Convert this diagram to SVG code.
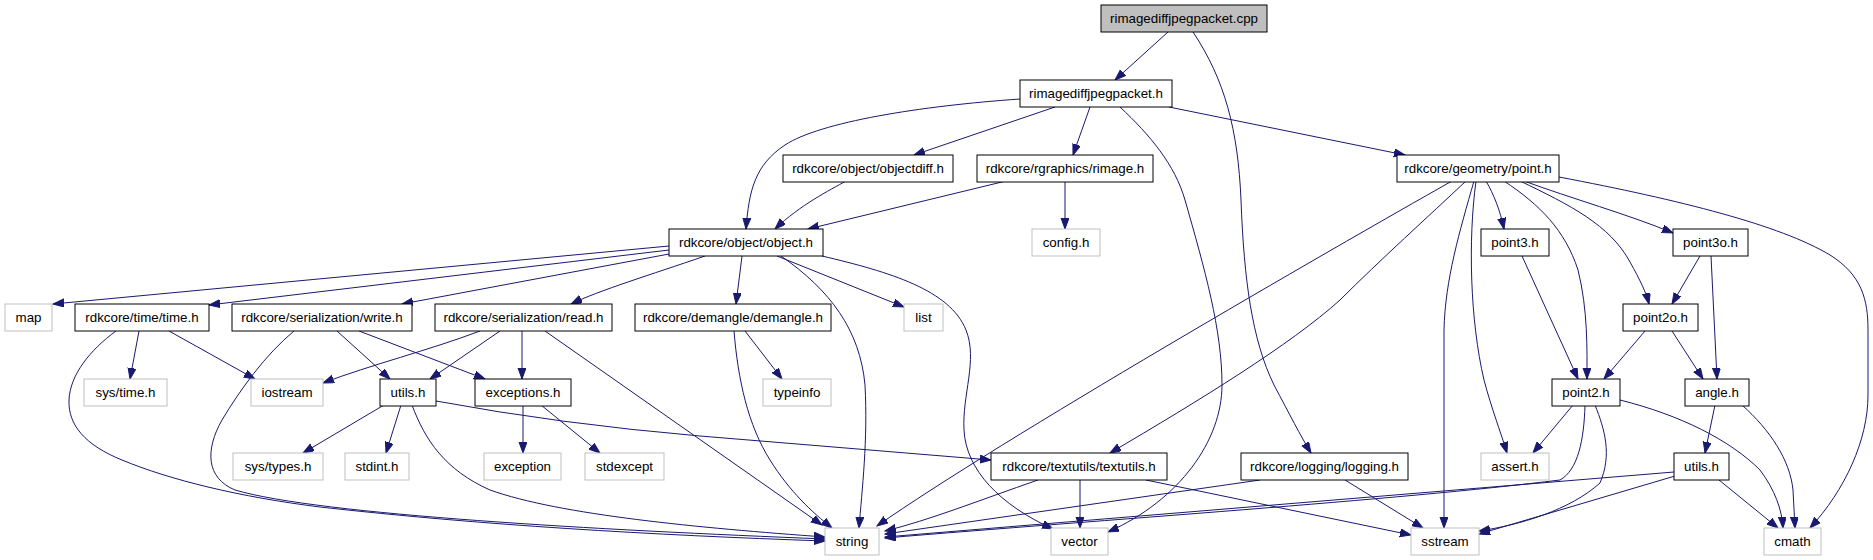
<svg xmlns="http://www.w3.org/2000/svg" width="1873" height="560" viewBox="0 0 1873 560">
<style>
.n rect{fill:#fff;stroke:#000;stroke-width:1}
.g rect{fill:#fff;stroke:#bfbfbf;stroke-width:1}
.root rect{fill:#bfbfbf;stroke:#000;stroke-width:1}
text{font-family:"Liberation Sans",Arial,Helvetica,sans-serif;font-size:13.33px;fill:#000;text-anchor:middle}
#edges path{fill:none;stroke:#191970;stroke-width:1;marker-end:url(#arr)}
</style>
<defs>
<marker id="arr" markerWidth="12" markerHeight="9" refX="11" refY="4" orient="auto" markerUnits="userSpaceOnUse">
<path d="M0,0 L11,4 L0,8 z" fill="#191970" stroke="#191970" stroke-width="1"/>
</marker>
</defs>
<rect width="1873" height="560" fill="#fff"/>
<g id="edges">
<path d="M1168,32 L1115,80"/>
<path d="M1193,32 C1225,80 1238,130 1241,200 C1244,280 1252,340 1274,385 C1290,415 1300,435 1311,453"/>
<path d="M1020,99 C920,106 820,122 785,145 C755,165 749,190 746,229"/>
<path d="M1055,107 L914,155"/>
<path d="M1090,107 L1073,155"/>
<path d="M1120,107 C1150,135 1175,165 1185,200 C1205,270 1222,330 1222,385 C1222,440 1180,500 1108,532"/>
<path d="M1169,107 L1405,155"/>
<path d="M846,181 C830,190 800,205 775,229"/>
<path d="M1006,181 L808,229"/>
<path d="M1065,181 L1065,229"/>
<path d="M1452,181 C1330,250 1000,440 877,526"/>
<path d="M1466,181 C1430,215 1380,260 1340,300 C1290,345 1200,400 1110,453"/>
<path d="M1474,181 C1460,230 1445,280 1444,330 L1444,528"/>
<path d="M1476,181 C1468,240 1470,320 1484,380 C1492,410 1500,430 1507,453"/>
<path d="M1486,181 C1494,195 1500,210 1504,229"/>
<path d="M1504,181 C1540,205 1565,230 1578,270 C1588,310 1587,350 1587,379"/>
<path d="M1520,181 C1570,205 1610,225 1630,262 C1640,280 1646,292 1649,304"/>
<path d="M1524,181 C1570,198 1630,215 1673,233"/>
<path d="M1559,177 C1680,200 1780,225 1830,255 C1862,275 1868,300 1868,330 L1868,395 C1868,440 1845,490 1810,528"/>
<path d="M669,246 L53,304"/>
<path d="M669,250 L209,305"/>
<path d="M669,254 L402,304"/>
<path d="M705,256 C650,275 600,290 571,304"/>
<path d="M742,256 L736,304"/>
<path d="M777,256 L904,307"/>
<path d="M781,256 C830,290 860,330 865,385 C868,440 862,490 859,528"/>
<path d="M822,256 C890,272 950,290 966,330 C978,360 962,395 964,430 C966,470 1000,505 1053,529"/>
<path d="M139,331 L130,379"/>
<path d="M169,331 L255,379"/>
<path d="M116,331 C90,350 70,375 69,400 C68,425 85,445 122,460 C170,480 240,497 320,507 C480,525 650,535 825,541"/>
<path d="M337,331 L390,379"/>
<path d="M359,331 L485,379"/>
<path d="M294,331 C265,355 240,390 222,420 C205,450 206,478 235,490 C320,515 600,530 825,539"/>
<path d="M480,331 C430,350 370,365 323,383"/>
<path d="M500,331 L430,379"/>
<path d="M522,331 L522,379"/>
<path d="M545,331 L822,525"/>
<path d="M734,331 C738,380 748,425 770,460 C790,492 812,512 832,528"/>
<path d="M745,331 L782,379"/>
<path d="M384,405 L303,453"/>
<path d="M401,405 L386,453"/>
<path d="M412,405 C425,440 445,470 490,490 C560,515 700,528 825,537"/>
<path d="M436,401 Q560,424 700,436 L991,460"/>
<path d="M523,405 L523,453"/>
<path d="M541,405 L600,453"/>
<path d="M1522,256 L1578,379"/>
<path d="M1700,256 L1672,304"/>
<path d="M1711,256 L1717,379"/>
<path d="M1645,331 L1604,379"/>
<path d="M1672,331 L1703,379"/>
<path d="M1573,405 L1533,453"/>
<path d="M1585,405 C1584,440 1578,470 1560,480 C1400,500 1100,520 885,538"/>
<path d="M1595,405 C1605,430 1612,455 1600,483 C1570,510 1520,525 1479,531"/>
<path d="M1620,400 C1680,415 1730,440 1760,470 C1775,490 1782,510 1783,528"/>
<path d="M1715,405 L1705,453"/>
<path d="M1742,405 C1770,430 1790,460 1793,490 L1795,528"/>
<path d="M1674,472 L885,537"/>
<path d="M1675,476 L1479,534"/>
<path d="M1719,480 L1778,528"/>
<path d="M1080,480 L1080,528"/>
<path d="M1038,480 C980,500 930,520 885,531"/>
<path d="M1146,480 L1411,535"/>
<path d="M1345,480 L1423,528"/>
<path d="M1260,480 L885,534"/>
</g>
<g id="n_cpp" class="root"><rect x="1101" y="5" width="166" height="27"/><text x="1184" y="23">rimagediffjpegpacket.cpp</text></g>
<g id="n_rjph" class="n"><rect x="1020" y="80" width="152" height="27"/><text x="1096" y="98">rimagediffjpegpacket.h</text></g>
<g id="n_objectdiff" class="n"><rect x="783" y="155" width="170" height="27"/><text x="868" y="173">rdkcore/object/objectdiff.h</text></g>
<g id="n_rimage" class="n"><rect x="977" y="155" width="176" height="27"/><text x="1065" y="173">rdkcore/rgraphics/rimage.h</text></g>
<g id="n_point" class="n"><rect x="1397" y="155" width="162" height="27"/><text x="1478" y="173">rdkcore/geometry/point.h</text></g>
<g id="n_object" class="n"><rect x="669" y="229" width="154" height="27"/><text x="746" y="247">rdkcore/object/object.h</text></g>
<g id="n_config" class="g"><rect x="1032" y="229" width="68" height="27"/><text x="1066" y="247">config.h</text></g>
<g id="n_point3" class="n"><rect x="1481" y="229" width="68" height="27"/><text x="1515" y="247">point3.h</text></g>
<g id="n_point3o" class="n"><rect x="1673" y="229" width="75" height="27"/><text x="1710.5" y="247">point3o.h</text></g>
<g id="n_map" class="g"><rect x="5" y="304" width="47" height="27"/><text x="28.5" y="322">map</text></g>
<g id="n_time" class="n"><rect x="75" y="304" width="134" height="27"/><text x="142" y="322">rdkcore/time/time.h</text></g>
<g id="n_write" class="n"><rect x="232" y="304" width="180" height="27"/><text x="322" y="322">rdkcore/serialization/write.h</text></g>
<g id="n_read" class="n"><rect x="435" y="304" width="177" height="27"/><text x="523.5" y="322">rdkcore/serialization/read.h</text></g>
<g id="n_demangle" class="n"><rect x="635" y="304" width="196" height="27"/><text x="733" y="322">rdkcore/demangle/demangle.h</text></g>
<g id="n_list" class="g"><rect x="904" y="304" width="39" height="27"/><text x="923.5" y="322">list</text></g>
<g id="n_point2o" class="n"><rect x="1623" y="304" width="75" height="27"/><text x="1660.5" y="322">point2o.h</text></g>
<g id="n_systime" class="g"><rect x="84" y="379" width="83" height="27"/><text x="125.5" y="397">sys/time.h</text></g>
<g id="n_iostream" class="g"><rect x="251" y="379" width="72" height="27"/><text x="287" y="397">iostream</text></g>
<g id="n_utilsL" class="n"><rect x="380" y="379" width="56" height="27"/><text x="408" y="397">utils.h</text></g>
<g id="n_exceptions" class="n"><rect x="475" y="379" width="96" height="27"/><text x="523" y="397">exceptions.h</text></g>
<g id="n_typeinfo" class="g"><rect x="763" y="379" width="68" height="27"/><text x="797" y="397">typeinfo</text></g>
<g id="n_point2" class="n"><rect x="1552" y="379" width="68" height="27"/><text x="1586" y="397">point2.h</text></g>
<g id="n_angle" class="n"><rect x="1685" y="379" width="64" height="27"/><text x="1717" y="397">angle.h</text></g>
<g id="n_systypes" class="g"><rect x="233" y="453" width="90" height="27"/><text x="278" y="471">sys/types.h</text></g>
<g id="n_stdint" class="g"><rect x="345" y="453" width="64" height="27"/><text x="377" y="471">stdint.h</text></g>
<g id="n_exception" class="g"><rect x="484" y="453" width="77" height="27"/><text x="522.5" y="471">exception</text></g>
<g id="n_stdexcept" class="g"><rect x="585" y="453" width="79" height="27"/><text x="624.5" y="471">stdexcept</text></g>
<g id="n_textutils" class="n"><rect x="991" y="453" width="176" height="27"/><text x="1079" y="471">rdkcore/textutils/textutils.h</text></g>
<g id="n_logging" class="n"><rect x="1241" y="453" width="167" height="27"/><text x="1324.5" y="471">rdkcore/logging/logging.h</text></g>
<g id="n_assert" class="g"><rect x="1481" y="453" width="68" height="27"/><text x="1515" y="471">assert.h</text></g>
<g id="n_utilsR" class="n"><rect x="1674" y="453" width="55" height="27"/><text x="1701.5" y="471">utils.h</text></g>
<g id="n_string" class="g"><rect x="825" y="528" width="54" height="27"/><text x="852" y="546">string</text></g>
<g id="n_vector" class="g"><rect x="1051" y="528" width="57" height="27"/><text x="1079.5" y="546">vector</text></g>
<g id="n_sstream" class="g"><rect x="1411" y="528" width="68" height="27"/><text x="1445" y="546">sstream</text></g>
<g id="n_cmath" class="g"><rect x="1764" y="528" width="57" height="27"/><text x="1792.5" y="546">cmath</text></g>
</svg>
